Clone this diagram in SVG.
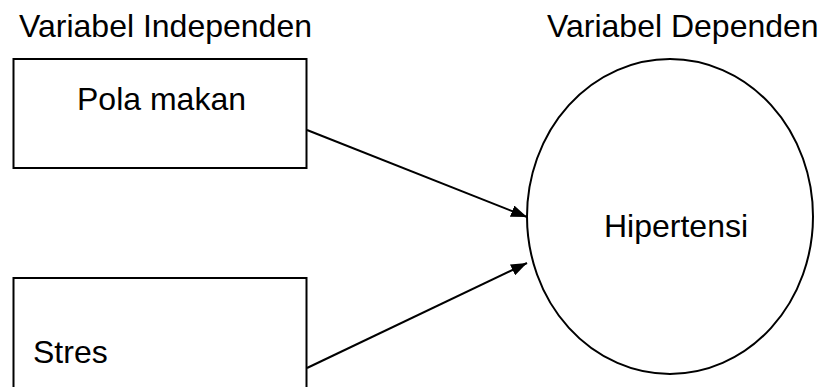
<svg xmlns="http://www.w3.org/2000/svg" width="825" height="387" viewBox="0 0 825 387">
  <style>
    .lbl { font-family: "Liberation Sans", Arial, sans-serif; font-size: 32px; fill: #000; }
    .shape { fill: #fff; stroke: #000; stroke-width: 2; }
    .conn { stroke: #000; stroke-width: 2; fill: none; }
  </style>
  <defs>
    <marker id="arrow" viewBox="0 0 16 12" refX="16" refY="6" markerWidth="16" markerHeight="12" markerUnits="userSpaceOnUse" orient="auto">
      <path d="M0,0 L16,6 L0,12 z" fill="#000"/>
    </marker>
  </defs>
  <rect width="825" height="387" fill="#fff"/>

  <!-- column headings -->
  <text class="lbl" x="19" y="37">Variabel Independen</text>
  <text class="lbl" x="547" y="37">Variabel Dependen</text>

  <g id="pola-makan">
    <rect class="shape" x="13.5" y="59" width="293" height="109"/>
    <text class="lbl" x="77" y="110">Pola makan</text>
  </g>

  <g id="stres">
    <rect class="shape" x="13.5" y="278" width="293" height="130"/>
    <text class="lbl" x="33" y="363">Stres</text>
  </g>

  <g id="hipertensi">
    <ellipse class="shape" cx="670" cy="216.5" rx="143" ry="157.5"/>
    <text class="lbl" x="604" y="237">Hipertensi</text>
  </g>

  <g id="connectors">
    <line class="conn" x1="307" y1="130" x2="527" y2="217" marker-end="url(#arrow)"/>
    <line class="conn" x1="307" y1="368" x2="527" y2="263" marker-end="url(#arrow)"/>
  </g>
</svg>
